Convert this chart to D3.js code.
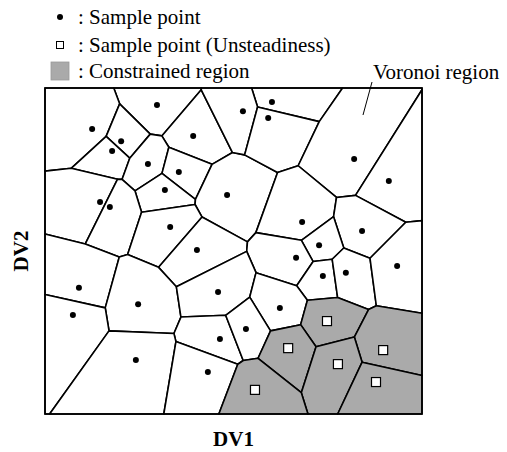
<!DOCTYPE html>
<html>
<head>
<meta charset="utf-8">
<script src="https://cdn.jsdelivr.net/npm/d3@7"></script>
<style>
  html, body { margin: 0; padding: 0; background: #fff; }
  svg { display: block; }
  text { font-family: "Liberation Serif", "Times New Roman", serif; fill: #000; }
</style>
</head>
<body>
<svg id="chart" width="507" height="452"></svg>
<script>
// Design variables (normalised 0-100) of the regular sample points
const sampleDV1 = [29.7, 12.5, 20.2, 17.8, 39.3, 27.3, 35.5, 31.8, 48.3, 14.6,
                   17.2, 33.2, 40.3, 60.2, 52.5, 59.2, 82.0, 91.2, 68.2, 84.1,
                   72.7, 66.6, 73.7, 79.8, 93.4, 9.0, 24.7, 7.4, 45.9, 46.4,
                   24.1, 43.2, 62.3, 53.3];
const sampleDV2 = [94.8, 87.4, 83.7, 80.7, 85.3, 76.7, 74.2, 68.7, 67.2, 65.0,
                   63.5, 57.4, 50.3, 95.7, 92.9, 90.8, 78.2, 71.5, 58.9, 56.1,
                   51.8, 47.9, 42.3, 43.3, 45.4, 38.7, 33.7, 30.4, 37.4, 23.0,
                   16.6, 12.9, 32.5, 26.1];

// Sample points flagged as unsteady (their cells form the constrained region)
const unsteadyDV1 = [74.8, 64.5, 89.7, 77.7, 87.8, 55.7];
const unsteadyDV2 = [28.5, 20.2, 19.6, 15.3, 9.8, 7.4];

const legendLabels = [": Sample point", ": Sample point (Unsteadiness)", ": Constrained region"];
const xAxisTitle = "DV1";
const yAxisTitle = "DV2";
const regionLabel = "Voronoi region";

const svg = d3.select("#chart");
const margin = { left: 45, right: 85, top: 88, bottom: 38 };
const W = 507, H = 452;

const x = d3.scaleLinear().domain([0, 100]).range([margin.left, W - margin.right]);
const y = d3.scaleLinear().domain([0, 100]).range([H - margin.bottom, margin.top]);

const points = [
  ...sampleDV1.map((d, i) => ({ dv1: d, dv2: sampleDV2[i], unsteady: false })),
  ...unsteadyDV1.map((d, i) => ({ dv1: d, dv2: unsteadyDV2[i], unsteady: true }))
];

const delaunay = d3.Delaunay.from(points, d => x(d.dv1), d => y(d.dv2));
const voronoi = delaunay.voronoi([x(0), y(100), x(100), y(0)]);

// Voronoi cells
svg.append("g")
  .selectAll("path")
  .data(points)
  .join("path")
  .attr("d", (d, i) => voronoi.renderCell(i))
  .attr("fill", d => d.unsteady ? "#aaaaaa" : "#ffffff")
  .attr("stroke", "#000")
  .attr("stroke-width", 1.6)
  .attr("stroke-linejoin", "round");

// Frame
svg.append("rect")
  .attr("x", x(0)).attr("y", y(100))
  .attr("width", x(100) - x(0)).attr("height", y(0) - y(100))
  .attr("fill", "none").attr("stroke", "#000").attr("stroke-width", 1.6);

// Sample points
svg.append("g")
  .selectAll("circle")
  .data(points.filter(d => !d.unsteady))
  .join("circle")
  .attr("cx", d => x(d.dv1)).attr("cy", d => y(d.dv2))
  .attr("r", 3).attr("fill", "#000");

// Unsteady sample points
const sq = 9;
svg.append("g")
  .selectAll("rect")
  .data(points.filter(d => d.unsteady))
  .join("rect")
  .attr("x", d => x(d.dv1) - sq / 2).attr("y", d => y(d.dv2) - sq / 2)
  .attr("width", sq).attr("height", sq)
  .attr("fill", "#fff").attr("stroke", "#000").attr("stroke-width", 1.2);

// Axis titles
svg.append("text")
  .attr("x", (x(0) + x(100)) / 2).attr("y", 446)
  .attr("text-anchor", "middle")
  .attr("font-size", 21).attr("font-weight", "bold")
  .text(xAxisTitle);

svg.append("text")
  .attr("transform", `translate(28,${(y(0) + y(100)) / 2}) rotate(-90)`)
  .attr("text-anchor", "middle")
  .attr("font-size", 21).attr("font-weight", "bold")
  .text(yAxisTitle);

// Callout for a Voronoi region
svg.append("text")
  .attr("x", 373).attr("y", 79)
  .attr("font-size", 21)
  .text(regionLabel);
svg.append("line")
  .attr("x1", 372).attr("y1", 82).attr("x2", 363).attr("y2", 115)
  .attr("stroke", "#000").attr("stroke-width", 1);

// Legend
const legend = svg.append("g");
const legendY = [17, 45, 71];
legend.append("circle").attr("cx", 60).attr("cy", legendY[0]).attr("r", 3).attr("fill", "#000");
legend.append("rect")
  .attr("x", 60 - 3.5).attr("y", legendY[1] - 3.5).attr("width", 7).attr("height", 7)
  .attr("fill", "#fff").attr("stroke", "#000").attr("stroke-width", 1);
legend.append("rect")
  .attr("x", 51).attr("y", legendY[2] - 9).attr("width", 18).attr("height", 18)
  .attr("fill", "#aaaaaa").attr("stroke", "#999").attr("stroke-width", 0.8);
legend.selectAll("text")
  .data(legendLabels)
  .join("text")
  .attr("x", 78).attr("y", (d, i) => legendY[i] + 7)
  .attr("font-size", 21)
  .text(d => d);
</script>
</body>
</html>
